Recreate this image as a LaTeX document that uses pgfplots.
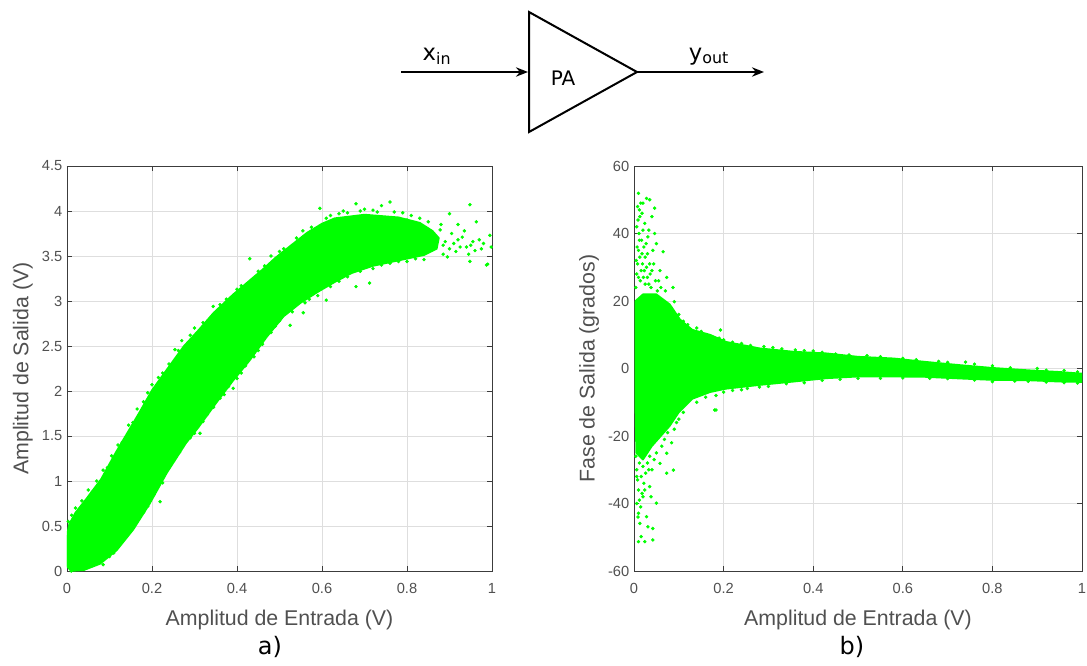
\documentclass[border=0pt]{standalone}
\usepackage{fontspec}
\setmainfont{Liberation Sans}
\newfontfamily\dejavu{DejaVu Sans}
\usepackage{pgfplots}
\pgfplotsset{compat=1.18}
\usetikzlibrary{arrows.meta}

\definecolor{ptgreen}{RGB}{0,255,0}
\definecolor{gridgray}{RGB}{222,222,222}
\definecolor{ticktext}{RGB}{80,80,80}
\definecolor{boxgray}{RGB}{60,60,60}

\pgfplotsset{
  matlab/.style={
    scale only axis,
    grid=major,
    major grid style={gridgray, line width=0.5pt},
    axis line style={boxgray, line width=0.6pt},
    every tick/.style={boxgray, line width=0.5pt},
    major tick length=4pt,
    tick align=inside,
    tick label style={font=\fontsize{11}{13}\selectfont, color=ticktext},
    xticklabel style={yshift=-6pt},
    label style={font=\fontsize{16}{18}\selectfont, color=ticktext},
    xlabel style={yshift=-5pt},
    /pgf/number format/assume math mode=true,
    /pgf/number format/fixed,
    xmin=0, xmax=1,
    xtick={0,0.2,0.4,0.6,0.8,1},
  },
  cloud/.style={fill=ptgreen, draw=ptgreen, line width=1.2pt, line join=round, mark=none},
  dots/.style={only marks, mark=*, mark size=1.1pt, color=ptgreen},
}

\begin{document}
\begin{tikzpicture}
\useasboundingbox (0,0) rectangle (815.25pt,-498.75pt);

% block diagram (pixel units, y down)
\begin{scope}[x=0.75pt, y=-0.75pt, line width=1.5pt]
  \draw (529,12) -- (529,132) -- (637,72) -- cycle;
  \draw[-{Stealth[length=9pt,width=7pt]}] (401,72) -- (528,72);
  \draw[-{Stealth[length=9pt,width=7pt]}] (637,72) -- (764,72);
  \node[anchor=base, font=\dejavu\fontsize{17}{18}\selectfont, inner sep=0pt] at (437,60) {x\textsubscript{in}};
  \node[anchor=base, font=\dejavu\fontsize{17}{18}\selectfont, inner sep=0pt] at (709,60) {y\textsubscript{out}};
  \node[anchor=base, font=\dejavu\fontsize{15}{18}\selectfont, inner sep=0pt] at (563,85) {PA};
\end{scope}

% a) output amplitude
\begin{axis}[matlab,
  at={(50.25pt,-428.25pt)}, anchor=south west,
  width=318.75pt, height=303.75pt,
  ymin=0, ymax=4.5,
  ytick={0,0.5,1,1.5,2,2.5,3,3.5,4,4.5},
  xlabel={Amplitud de Entrada (V)},
  ylabel={Amplitud de Salida (V)},
]
\addplot[cloud] coordinates {
  (0,0.05) (0,0.40) (0.005,0.52) (0.02,0.65) (0.045,0.80) (0.08,1.02)
  (0.115,1.32) (0.14,1.52) (0.17,1.76) (0.20,2.01) (0.235,2.24) (0.275,2.50)
  (0.31,2.68) (0.345,2.87) (0.39,3.07) (0.42,3.19) (0.46,3.35) (0.49,3.48)
  (0.53,3.63) (0.565,3.76) (0.60,3.86) (0.63,3.92) (0.70,3.96) (0.78,3.93)
  (0.83,3.87) (0.86,3.78) (0.875,3.70) (0.87,3.58)
  (0.84,3.51) (0.80,3.47) (0.72,3.39) (0.67,3.31) (0.63,3.21) (0.59,3.10)
  (0.55,2.98) (0.51,2.83) (0.47,2.60) (0.43,2.34) (0.39,2.11) (0.35,1.86)
  (0.31,1.60) (0.28,1.42) (0.235,1.09) (0.195,0.75) (0.156,0.46) (0.117,0.23)
  (0.078,0.08) (0.04,0.01) (0.01,0.0) (0,0.05)
};
\addplot[dots] coordinates {
  (0.003,0.55) (0.011,0.62) (0.02,0.70) (0.035,0.78) (0.05,0.90) (0.06,0.88)
  (0.07,1.00) (0.085,1.12) (0.095,1.15) (0.105,1.28) (0.12,1.40) (0.13,1.43)
  (0.145,1.62) (0.155,1.65) (0.165,1.80) (0.18,1.88) (0.19,1.98) (0.20,2.07)
  (0.215,2.15) (0.225,2.20) (0.24,2.30) (0.254,2.46) (0.262,2.45) (0.27,2.56)
  (0.29,2.62) (0.30,2.70) (0.32,2.76) (0.344,2.94) (0.36,2.96) (0.375,3.02)
  (0.40,3.13) (0.41,3.17) (0.43,3.47) (0.45,3.33) (0.465,3.39) (0.48,3.50)
  (0.50,3.55) (0.51,3.58) (0.54,3.70) (0.555,3.78) (0.575,3.82) (0.595,4.03)
  (0.61,3.92) (0.64,3.97) (0.66,3.98) (0.68,4.08) (0.69,4.00) (0.72,4.01)
  (0.74,4.06) (0.76,4.10) (0.77,3.99) (0.79,3.98) (0.81,3.95) (0.83,3.92)
  (0.85,3.88) (0.62,3.95) (0.65,4.00) (0.70,4.02) (0.73,3.99) (0.80,3.90)
  (0.86,3.57) (0.87,3.70) (0.878,3.79) (0.885,3.62) (0.895,3.49) (0.90,3.97)
  (0.905,3.75) (0.91,3.64) (0.915,3.55) (0.925,3.60) (0.93,3.71) (0.94,3.60)
  (0.945,3.52) (0.948,3.44) (0.948,4.07) (0.955,3.66) (0.963,3.88) (0.97,3.68)
  (0.975,3.58) (0.987,3.40) (0.995,3.73) (0.998,3.60) (0.99,3.41)
  (0.88,3.85) (0.89,3.66) (0.90,3.58) (0.92,3.68) (0.935,3.78) (0.95,3.62)
  (0.96,3.56) (0.98,3.64) (0.92,3.85) (0.885,3.52)
  (0.01,0.0) (0.03,0.02) (0.05,0.05) (0.065,0.07) (0.085,0.07) (0.10,0.16)
  (0.11,0.20) (0.125,0.30) (0.132,0.34) (0.14,0.38) (0.16,0.52) (0.17,0.60)
  (0.18,0.65) (0.19,0.72) (0.205,0.85) (0.219,0.77) (0.225,0.98) (0.24,1.15)
  (0.25,1.24) (0.265,1.32) (0.27,1.38) (0.29,1.48) (0.30,1.53) (0.313,1.53)
  (0.32,1.66) (0.33,1.74) (0.345,1.82) (0.36,1.92) (0.37,1.96) (0.38,2.05)
  (0.391,2.03) (0.40,2.14) (0.41,2.20) (0.42,2.28) (0.44,2.38) (0.45,2.45)
  (0.46,2.52) (0.48,2.65) (0.49,2.72) (0.50,2.78) (0.525,2.73) (0.53,2.88)
  (0.556,2.87) (0.56,2.98) (0.57,3.02) (0.59,3.06) (0.61,3.01) (0.62,3.16)
  (0.64,3.22) (0.66,3.27) (0.68,3.16) (0.69,3.33) (0.712,3.20) (0.72,3.36)
  (0.74,3.40) (0.76,3.42) (0.78,3.44) (0.80,3.44) (0.82,3.47) (0.84,3.46)
};
\end{axis}

% b) output phase
\begin{axis}[matlab,
  at={(475.5pt,-428.25pt)}, anchor=south west,
  width=336pt, height=303.75pt,
  ymin=-60, ymax=60,
  ytick={-60,-40,-20,0,20,40,60},
  xlabel={Amplitud de Entrada (V)},
  ylabel={Fase de Salida (grados)},
]
\addplot[cloud] coordinates {
  (0.003,20) (0.02,22) (0.05,22) (0.08,19) (0.103,14.5) (0.13,11.5)
  (0.17,10) (0.206,7.9) (0.28,6) (0.356,5) (0.43,4.5) (0.50,3.5)
  (0.58,3) (0.65,2) (0.73,1) (0.80,0.2) (0.88,-0.5) (0.95,-1) (1.0,-1.5)
  (1.0,-4) (0.95,-3.9) (0.88,-3.5) (0.80,-3.4) (0.73,-3) (0.65,-2.5)
  (0.58,-2.4) (0.50,-2.4) (0.43,-2.9) (0.356,-3.9) (0.28,-4.9) (0.206,-6)
  (0.17,-7) (0.13,-9) (0.10,-13) (0.08,-17) (0.06,-20) (0.04,-23)
  (0.02,-27) (0.005,-25) (0.003,-10) (0.003,20)
};
\addplot[dots] coordinates {
  (0.09,19.8) (0.10,16) (0.11,14) (0.12,13) (0.14,12) (0.16,9.4) (0.15,11)
  (0.19,9) (0.193,11.4) (0.20,8.5) (0.22,7.8) (0.24,7.4) (0.26,6.8) (0.29,6.5)
  (0.31,6.2) (0.33,5.8) (0.36,5.5) (0.38,5.3) (0.40,5.2) (0.42,4.8) (0.45,4.3)
  (0.48,4.0) (0.52,3.8) (0.55,3.5) (0.60,3.0) (0.63,2.6) (0.68,2.1) (0.70,1.8)
  (0.74,1.9) (0.76,1.3) (0.80,0.8) (0.84,0.2) (0.90,0) (0.92,-0.5) (0.96,-0.6)
  (0.99,-1)
  (0.99,-4.3) (0.96,-4.2) (0.92,-4.0) (0.88,-3.8) (0.85,-3.7) (0.80,-3.9)
  (0.76,-3.4) (0.70,-3.0) (0.66,-2.9) (0.60,-2.8) (0.55,-2.9) (0.50,-2.9)
  (0.46,-3.2) (0.42,-3.5) (0.38,-4.2) (0.34,-4.5) (0.30,-5.3) (0.28,-5.5)
  (0.253,-5.9) (0.24,-6.3) (0.22,-6.5) (0.20,-7) (0.18,-12.3) (0.183,-8)
  (0.16,-8.5) (0.14,-10) (0.12,-8.4) (0.11,-13) (0.10,-15) (0.09,-18)
  (0.004,24) (0.006,28) (0.008,31) (0.01,35) (0.012,38) (0.006,42)
  (0.009,44) (0.012,47) (0.015,49) (0.018,46) (0.02,41) (0.022,36)
  (0.025,33) (0.028,30) (0.03,27) (0.033,25) (0.016,29) (0.018,34)
  (0.024,43) (0.028,50.4) (0.035,50) (0.01,51.9) (0.046,47.5) (0.04,45)
  (0.031,39) (0.046,40) (0.05,37) (0.065,34.6) (0.035,31) (0.058,29)
  (0.073,27) (0.01,27) (0.025,25) (0.087,24) (0.013,33) (0.013,45)
  (0.042,35) (0.055,26) (0.04,29) (0.07,23) (0.06,24)
  (0.005,32) (0.007,36) (0.011,40) (0.014,26) (0.017,38) (0.019,31)
  (0.021,27) (0.023,29) (0.027,37) (0.03,34) (0.033,41) (0.036,28)
  (0.038,24) (0.044,31) (0.048,26) (0.052,23) (0.008,48) (0.02,49)
  (0.004,-26) (0.006,-30) (0.008,-33) (0.01,-36) (0.012,-39) (0.006,-40)
  (0.009,-44) (0.015,-41) (0.018,-37) (0.022,-34) (0.026,-31) (0.03,-28)
  (0.035,-26) (0.04,-30) (0.045,-27) (0.05,-25)
  (0.088,-30.1) (0.073,-25.1) (0.058,-28.1) (0.05,-39.9) (0.035,-35)
  (0.02,-38) (0.01,-42.9) (0.028,-43.9) (0.013,-45.9) (0.031,-46.9)
  (0.042,-47.4) (0.016,-49.8) (0.024,-51.3) (0.01,-51.3) (0.042,-50.8)
  (0.183,-12.3) (0.073,-31) (0.006,-32) (0.02,-29)
  (0.012,-28) (0.016,-32) (0.024,-36) (0.028,-24) (0.033,-30) (0.038,-38)
  (0.062,-23) (0.068,-21) (0.075,-19) (0.084,-22) (0.095,-16)
};
\end{axis}

\node[font=\dejavu\fontsize{18}{20}\selectfont] at (202.5pt,-485pt) {a)};
\node[font=\dejavu\fontsize{18}{20}\selectfont] at (639pt,-485pt) {b)};
\end{tikzpicture}
\end{document}
